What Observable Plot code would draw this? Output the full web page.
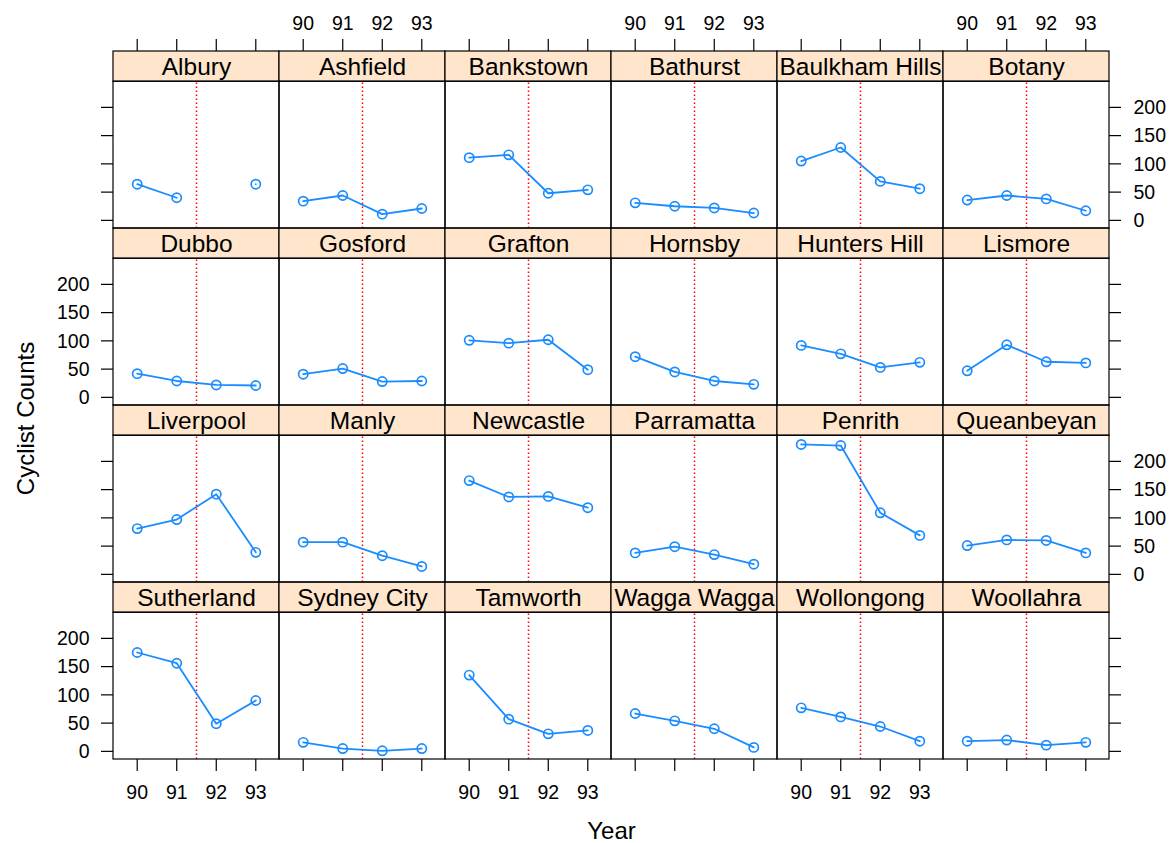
<!DOCTYPE html>
<html>
<head>
<meta charset="utf-8">
<script src="https://cdn.jsdelivr.net/npm/d3@7"></script>
<script src="https://cdn.jsdelivr.net/npm/@observablehq/plot@0.6"></script>
<style>
  html, body { margin: 0; padding: 0; background: #ffffff; }
  #chart svg { display: block; }
</style>
</head>
<body>
<div id="chart"></div>
<script>
// ---- Data ----
const sites = [
  "Albury", "Ashfield", "Bankstown", "Bathurst", "Baulkham Hills", "Botany",
  "Dubbo", "Gosford", "Grafton", "Hornsby", "Hunters Hill", "Lismore",
  "Liverpool", "Manly", "Newcastle", "Parramatta", "Penrith", "Queanbeyan",
  "Sutherland", "Sydney City", "Tamworth", "Wagga Wagga", "Wollongong", "Woollahra"
];
const years = [90, 91, 92, 93];
const counts90 = [64, 34, 111, 31, 105, 36, 42, 41, 101, 72, 92, 47, 81, 57, 166, 38, 230, 51, 175, 16, 135, 67, 77, 18];
const counts91 = [40, 44, 116, 25, 129, 44, 29, 51, 96, 45, 77, 93, 97, 57, 137, 49, 228, 61, 156, 5, 57, 54, 61, 20];
const counts92 = [null, 11, 48, 22, 69, 38, 22, 28, 102, 29, 53, 63, 142, 33, 138, 35, 109, 60, 49, 1, 31, 40, 44, 11];
const counts93 = [64, 21, 54, 13, 56, 17, 21, 29, 49, 23, 62, 61, 39, 14, 118, 18, 69, 38, 90, 5, 37, 7, 18, 16];
const yTickValues = [0, 50, 100, 150, 200];
const xTickValues = [90, 91, 92, 93];
const breakYear = 91.5;
const xLabel = "Year";
const yLabel = "Cyclist Counts";

// ---- Layout constants ----
const nCols = 6, nRows = 4;
const X0 = 89.4, X1 = 93.6;           // x domain of each panel
const Y0 = -14.4, YP = 245.4, YS = 298.9; // panel bottom, panel top / strip bottom, strip top
const blue = "#1a8cff";

const panels = sites.map((name, i) => ({name, col: i % nCols, row: Math.floor(i / nCols)}));
const allCounts = [counts90, counts91, counts92, counts93];
const obs = [];
panels.forEach((p, i) => years.forEach((yr, j) => {
  const v = allCounts[j][i];
  obs.push({...p, year: yr, count: v == null ? NaN : v});
}));

const cols = d3.range(nCols), rows = d3.range(nRows);
const topTicks = cols.flatMap(c => xTickValues.map(v => ({col: c, row: 0, v})));
const bottomTicks = cols.flatMap(c => xTickValues.map(v => ({col: c, row: nRows - 1, v})));
const leftTicks = rows.flatMap(r => yTickValues.map(v => ({col: 0, row: r, v})));
const rightTicks = rows.flatMap(r => yTickValues.map(v => ({col: nCols - 1, row: r, v})));
const topLabels = topTicks.filter(d => d.col % 2 === 1);
const bottomLabels = bottomTicks.filter(d => d.col % 2 === 0);
const leftLabels = leftTicks.filter(d => d.row % 2 === 1);
const rightLabels = rightTicks.filter(d => d.row % 2 === 0);

const F = {fx: "col", fy: "row"};

const chart = Plot.plot({
  width: 1172,
  height: 843,
  marginLeft: 112,
  marginRight: 62,
  marginTop: 50,
  marginBottom: 83,
  style: {fontFamily: "'Liberation Sans', Arial, sans-serif", background: "#ffffff", color: "#000000"},
  fx: {domain: cols, padding: 0, axis: null},
  fy: {domain: rows, padding: 0, axis: null},
  x: {domain: [X0, X1], axis: null},
  y: {domain: [Y0, YS], axis: null},
  marks: [
    // strips
    Plot.rect(panels, {...F, x1: () => X0, x2: () => X1, y1: () => YP, y2: () => YS,
      fill: "#ffe5cc", stroke: "#000000", strokeWidth: 1.2}),
    Plot.text(panels, {...F, x: () => (X0 + X1) / 2, y: () => (YP + YS) / 2, text: "name",
      fontSize: 24.5, dy: 1, fill: "#000000"}),
    // reference line
    Plot.ruleX(panels, {...F, x: () => breakYear, y1: () => Y0, y2: () => YP,
      stroke: "#ff0000", strokeWidth: 1.5, strokeDasharray: "1.5,2.5"}),
    // data
    Plot.line(obs, {...F, x: "year", y: "count", z: "name", stroke: blue, strokeWidth: 1.8}),
    Plot.dot(obs, {...F, x: "year", y: "count", r: 4.6, stroke: blue, strokeWidth: 1.7, fill: "none"}),
    // panel frames
    Plot.rect(panels, {...F, x1: () => X0, x2: () => X1, y1: () => Y0, y2: () => YP,
      fill: "none", stroke: "#000000", strokeWidth: 1.2}),
    // ticks
    Plot.ruleX(topTicks, {...F, x: "v", y1: () => YS, y2: () => YS, insetTop: -12, insetBottom: 0, stroke: "#000000", strokeWidth: 1.2}),
    Plot.ruleX(bottomTicks, {...F, x: "v", y1: () => Y0, y2: () => Y0, insetTop: 0, insetBottom: -12, stroke: "#000000", strokeWidth: 1.2}),
    Plot.ruleY(leftTicks, {...F, y: "v", x1: () => X0, x2: () => X0, insetLeft: -12, insetRight: 0, stroke: "#000000", strokeWidth: 1.2}),
    Plot.ruleY(rightTicks, {...F, y: "v", x1: () => X1, x2: () => X1, insetLeft: 0, insetRight: -12, stroke: "#000000", strokeWidth: 1.2}),
    // tick labels
    Plot.text(topLabels, {...F, x: "v", y: () => YS, dy: -28, text: d => String(d.v), fontSize: 19.5, fill: "#000000"}),
    Plot.text(bottomLabels, {...F, x: "v", y: () => Y0, dy: 33, text: d => String(d.v), fontSize: 19.5, fill: "#000000"}),
    Plot.text(leftLabels, {...F, y: "v", x: () => X0, dx: -24, dy: 0.5, textAnchor: "end", text: d => String(d.v), fontSize: 19.5, fill: "#000000"}),
    Plot.text(rightLabels, {...F, y: "v", x: () => X1, dx: 24, dy: 0.5, textAnchor: "start", text: d => String(d.v), fontSize: 19.5, fill: "#000000"}),
    // axis titles
    Plot.text([{col: 3, row: nRows - 1, label: xLabel}], {...F, x: () => X0, y: () => Y0, dy: 72, text: "label", fontSize: 24, fill: "#000000"}),
    Plot.text([{col: 0, row: 2, label: yLabel}], {...F, x: () => X0, y: () => YS, dx: -86.7, dy: 13, rotate: -90, text: "label", fontSize: 24, fill: "#000000"})
  ]
});
document.getElementById("chart").appendChild(chart);
</script>
</body>
</html>
